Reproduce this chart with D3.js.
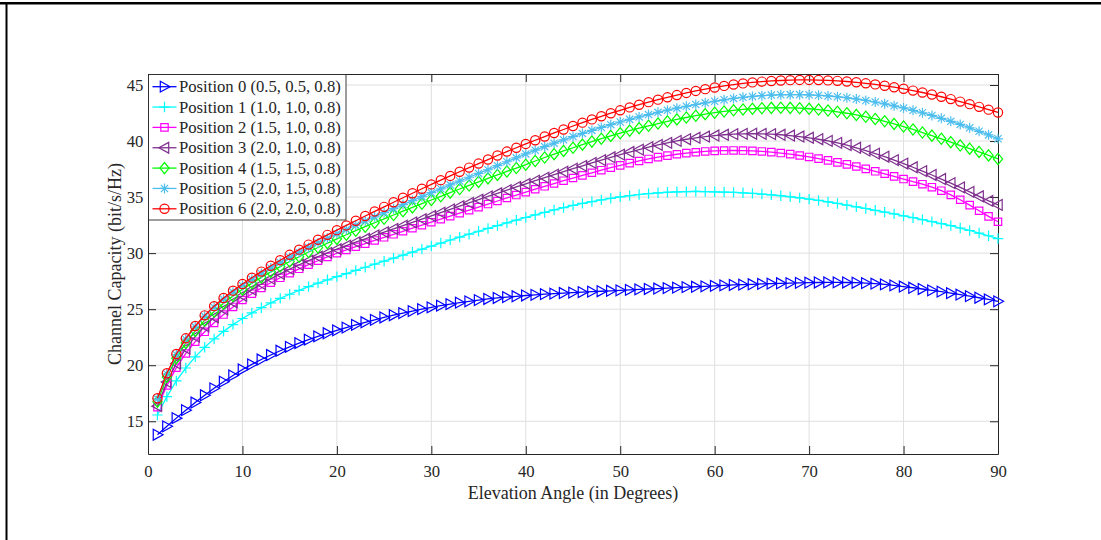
<!DOCTYPE html>
<html>
<head>
<meta charset="utf-8">
<script src="https://cdn.jsdelivr.net/npm/d3@7"></script>
<style>
  html, body { margin: 0; padding: 0; background: #fff; }
  svg { display: block; }
  text { font-family: "Liberation Serif", "Times New Roman", serif; fill: #262626; }
</style>
</head>
<body>
<svg id="chart" width="1101" height="540"></svg>
<script>
// Elevation angles (degrees) at which capacity was evaluated
const elevationDeg = d3.range(1, 91);

// Channel capacity (bit/s/Hz) per receiver position
const pos0 = [13.80,14.55,15.28,15.99,16.67,17.32,17.94,18.53,19.09,19.62,
  20.08,20.51,20.91,21.29,21.64,21.97,22.28,22.57,22.85,23.11,
  23.36,23.60,23.83,24.05,24.26,24.46,24.65,24.83,25.00,25.16,
  25.31,25.45,25.58,25.70,25.81,25.91,26.00,26.08,26.15,26.22,
  26.28,26.34,26.39,26.44,26.48,26.52,26.56,26.60,26.64,26.68,
  26.72,26.76,26.80,26.84,26.88,26.92,26.96,27.00,27.04,27.08,
  27.12,27.16,27.19,27.22,27.25,27.28,27.31,27.33,27.35,27.37,
  27.38,27.39,27.39,27.38,27.36,27.33,27.28,27.21,27.12,27.02,
  26.91,26.80,26.68,26.56,26.43,26.30,26.16,26.02,25.87,25.70];
const pos1 = [15.56,17.20,18.60,19.75,20.75,21.60,22.35,23.02,23.62,24.17,
  24.67,25.13,25.56,25.96,26.33,26.68,27.01,27.32,27.62,27.90,
  28.18,28.46,28.74,29.01,29.28,29.55,29.82,30.09,30.36,30.63,
  30.90,31.17,31.43,31.69,31.95,32.20,32.45,32.70,32.94,33.18,
  33.41,33.63,33.85,34.06,34.26,34.44,34.60,34.75,34.89,35.02,
  35.13,35.23,35.31,35.38,35.43,35.47,35.49,35.50,35.49,35.47,
  35.45,35.42,35.38,35.33,35.27,35.20,35.12,35.03,34.93,34.82,
  34.70,34.57,34.43,34.28,34.13,33.98,33.82,33.66,33.50,33.33,
  33.16,32.99,32.81,32.63,32.45,32.24,32.02,31.79,31.55,31.30];
const pos2 = [16.25,18.20,19.78,21.05,22.10,22.98,23.78,24.52,25.20,25.82,
  26.38,26.89,27.36,27.80,28.21,28.60,28.97,29.32,29.66,29.99,
  30.28,30.57,30.85,31.13,31.41,31.68,31.95,32.22,32.49,32.76,
  33.03,33.30,33.57,33.84,34.10,34.38,34.65,34.92,35.18,35.44,
  35.70,35.96,36.21,36.46,36.70,36.94,37.17,37.40,37.62,37.83,
  38.03,38.22,38.40,38.56,38.70,38.82,38.92,39.00,39.07,39.12,
  39.15,39.16,39.15,39.12,39.07,39.01,38.93,38.83,38.71,38.58,
  38.43,38.27,38.10,37.92,37.73,37.52,37.30,37.08,36.85,36.61,
  36.38,36.15,35.88,35.57,35.20,34.76,34.28,33.78,33.28,32.80];
const pos3 = [16.35,18.50,20.15,21.48,22.55,23.48,24.28,24.98,25.62,26.20,
  26.74,27.24,27.71,28.15,28.57,28.96,29.33,29.68,30.02,30.35,
  30.67,30.98,31.28,31.58,31.87,32.16,32.45,32.74,33.03,33.32,
  33.61,33.90,34.19,34.48,34.77,35.06,35.34,35.62,35.90,36.18,
  36.46,36.73,37.00,37.27,37.53,37.79,38.05,38.30,38.55,38.79,
  39.02,39.24,39.45,39.65,39.84,40.01,40.16,40.29,40.40,40.49,
  40.56,40.61,40.64,40.65,40.64,40.61,40.56,40.49,40.40,40.29,
  40.16,40.01,39.84,39.63,39.40,39.15,38.88,38.60,38.30,37.99,
  37.66,37.32,36.97,36.61,36.24,35.86,35.47,35.07,34.66,34.30];
const pos4 = [16.75,18.95,20.62,21.98,23.06,24.00,24.80,25.52,26.17,26.77,
  27.32,27.84,28.33,28.80,29.25,29.68,30.10,30.50,30.89,31.27,
  31.64,32.00,32.36,32.71,33.06,33.40,33.74,34.08,34.41,34.74,
  35.07,35.40,35.72,36.04,36.36,36.67,36.98,37.29,37.59,37.89,
  38.22,38.53,38.83,39.12,39.40,39.68,39.95,40.21,40.46,40.70,
  40.93,41.15,41.36,41.56,41.75,41.93,42.10,42.26,42.40,42.53,
  42.64,42.74,42.82,42.88,42.93,42.96,42.97,42.96,42.93,42.88,
  42.81,42.72,42.61,42.48,42.33,42.16,41.97,41.76,41.53,41.29,
  41.03,40.76,40.48,40.20,39.90,39.60,39.32,39.03,38.72,38.40];
const pos5 = [17.00,19.22,20.93,22.32,23.42,24.36,25.17,25.89,26.52,27.11,
  27.66,28.18,28.68,29.16,29.62,30.06,30.49,30.91,31.32,31.72,
  32.11,32.49,32.87,33.24,33.61,33.97,34.33,34.69,35.04,35.39,
  35.74,36.09,36.43,36.77,37.11,37.44,37.80,38.15,38.50,38.85,
  39.18,39.50,39.81,40.11,40.40,40.68,40.95,41.21,41.46,41.70,
  41.93,42.15,42.36,42.56,42.75,42.93,43.10,43.26,43.41,43.55,
  43.68,43.80,43.90,43.98,44.05,44.10,44.13,44.14,44.14,44.12,
  44.08,44.02,43.95,43.86,43.75,43.62,43.48,43.32,43.14,42.95,
  42.74,42.52,42.28,42.03,41.76,41.48,41.18,40.87,40.55,40.20];
const pos6 = [17.05,19.28,21.00,22.40,23.50,24.45,25.27,26.00,26.65,27.25,
  27.81,28.35,28.87,29.37,29.85,30.31,30.76,31.20,31.63,32.05,
  32.47,32.89,33.31,33.72,34.13,34.54,34.94,35.34,35.74,36.13,
  36.51,36.89,37.26,37.63,37.99,38.35,38.71,39.06,39.40,39.74,
  40.07,40.40,40.72,41.03,41.34,41.64,41.93,42.21,42.48,42.74,
  43.00,43.24,43.47,43.69,43.90,44.10,44.29,44.47,44.63,44.78,
  44.92,45.04,45.14,45.23,45.30,45.36,45.40,45.43,45.45,45.45,
  45.44,45.41,45.37,45.31,45.24,45.15,45.05,44.93,44.80,44.66,
  44.50,44.33,44.15,43.95,43.74,43.52,43.29,43.05,42.80,42.55];

const seriesNames = [
  "Position 0 (0.5, 0.5, 0.8)",
  "Position 1 (1.0, 1.0, 0.8)",
  "Position 2 (1.5, 1.0, 0.8)",
  "Position 3 (2.0, 1.0, 0.8)",
  "Position 4 (1.5, 1.5, 0.8)",
  "Position 5 (2.0, 1.5, 0.8)",
  "Position 6 (2.0, 2.0, 0.8)"
];
const seriesValues = [pos0, pos1, pos2, pos3, pos4, pos5, pos6];
const seriesColors = ["#0000ff", "#00ffff", "#ff00ff", "#7e2f8e", "#00ff00", "#4dbeee", "#ff0000"];
const seriesMarkers = ["triRight", "plus", "square", "triLeft", "diamond", "star", "circle"];

const xTicks = [0, 10, 20, 30, 40, 50, 60, 70, 80, 90];
const yTicks = [15, 20, 25, 30, 35, 40, 45];

const xLabel = "Elevation Angle (in Degrees)";
const yLabel = "Channel Capacity (bit/s/Hz)";

// ---- layout ----
const plot = { left: 148, right: 998, top: 74, bottom: 454 };
const axisColor = "#262626";
const gridColor = "#dfdfdf";
const tickFont = 16.7;
const labelFont = 18;
const tickLen = 8;

const svg = d3.select("#chart");

// figure frame (top and left edges)
svg.append("rect").attr("x", 0).attr("y", 2).attr("width", 1101).attr("height", 2.5).attr("fill", "#000");
svg.append("rect").attr("x", 5.5).attr("y", 2).attr("width", 2).attr("height", 538).attr("fill", "#000");

const x = d3.scaleLinear().domain([0, 90]).range([plot.left, plot.right]);
const y = d3.scaleLinear().domain([12.08, 45.98]).range([plot.bottom, plot.top]);

// axes background
svg.append("rect")
  .attr("x", plot.left).attr("y", plot.top)
  .attr("width", plot.right - plot.left).attr("height", plot.bottom - plot.top)
  .attr("fill", "#fff");

// grid
const grid = svg.append("g").attr("stroke", gridColor).attr("stroke-width", 1);
grid.selectAll("line.gx").data(xTicks.filter(t => t > 0 && t < 90)).join("line")
  .attr("x1", d => x(d)).attr("x2", d => x(d))
  .attr("y1", plot.top).attr("y2", plot.bottom);
grid.selectAll("line.gy").data(yTicks).join("line")
  .attr("y1", d => y(d)).attr("y2", d => y(d))
  .attr("x1", plot.left).attr("x2", plot.right);

// axes with inward ticks
function styleAxis(g) {
  g.select(".domain").attr("stroke", axisColor).attr("stroke-width", 1);
  g.selectAll(".tick line").attr("stroke", axisColor).attr("stroke-width", 1);
  g.selectAll("text").attr("font-size", tickFont)
    .attr("font-family", '"Liberation Serif", "Times New Roman", serif')
    .attr("fill", axisColor);
}

svg.append("g").attr("transform", `translate(0,${plot.bottom})`)
  .call(d3.axisBottom(x).tickValues(xTicks).tickFormat(d3.format("d"))
    .tickSizeInner(-tickLen).tickSizeOuter(0).tickPadding(11.3))
  .call(styleAxis);
svg.append("g").attr("transform", `translate(0,${plot.top})`)
  .call(d3.axisTop(x).tickValues(xTicks).tickFormat("")
    .tickSizeInner(-tickLen).tickSizeOuter(0))
  .call(styleAxis);
svg.append("g").attr("transform", `translate(${plot.left},0)`)
  .call(d3.axisLeft(y).tickValues(yTicks).tickFormat(d3.format("d"))
    .tickSizeInner(-tickLen).tickSizeOuter(0).tickPadding(4.7))
  .call(styleAxis);
svg.append("g").attr("transform", `translate(${plot.right},0)`)
  .call(d3.axisRight(y).tickValues(yTicks).tickFormat("")
    .tickSizeInner(-tickLen).tickSizeOuter(0))
  .call(styleAxis);

// axis titles
svg.append("text")
  .attr("x", (plot.left + plot.right) / 2).attr("y", 499)
  .attr("text-anchor", "middle").attr("font-size", labelFont)
  .text(xLabel);
svg.append("text")
  .attr("transform", `translate(121,${(plot.top + plot.bottom) / 2}) rotate(-90)`)
  .attr("text-anchor", "middle").attr("font-size", labelFont)
  .text(yLabel);

// marker shapes
const markerPath = {
  triRight: "M-4.2,-5.4L5.6,0L-4.2,5.4Z",
  triLeft: "M4.2,-5.4L-5.6,0L4.2,5.4Z",
  plus: "M-5.2,0H5.2M0,-5.2V5.2",
  square: "M-3.7,-3.7H3.7V3.7H-3.7Z",
  diamond: "M0,-5.6L4.6,0L0,5.6L-4.6,0Z",
  star: "M-5,0H5M0,-5V5M-3.6,-3.6L3.6,3.6M-3.6,3.6L3.6,-3.6",
  circle: "M4.6,0A4.6,4.6 0 1,1 -4.6,0A4.6,4.6 0 1,1 4.6,0Z"
};

const line = d3.line().x(d => x(d[0])).y(d => y(d[1]));

const plotG = svg.append("g");
seriesValues.forEach((vals, i) => {
  const pts = vals.map((v, j) => [elevationDeg[j], v]);
  const g = plotG.append("g");
  g.append("path").datum(pts)
    .attr("d", line).attr("fill", "none")
    .attr("stroke", seriesColors[i]).attr("stroke-width", 1.3);
  g.selectAll("path.m").data(pts).join("path")
    .attr("class", "m")
    .attr("transform", d => `translate(${x(d[0])},${y(d[1])})`)
    .attr("d", markerPath[seriesMarkers[i]])
    .attr("fill", "none")
    .attr("stroke", seriesColors[i]).attr("stroke-width", 1.2);
});

// legend
const legend = svg.append("g");
const legendBox = { x: 148.5, y: 74.5, w: 197.5, h: 145.5 };
legend.append("rect")
  .attr("x", legendBox.x).attr("y", legendBox.y)
  .attr("width", legendBox.w).attr("height", legendBox.h)
  .attr("fill", "#fff").attr("stroke", axisColor).attr("stroke-width", 0.9);
const rowY = i => 86.7 + 20.35 * i;
seriesNames.forEach((name, i) => {
  const row = legend.append("g").attr("transform", `translate(0,${rowY(i)})`);
  row.append("line").attr("x1", 152.5).attr("x2", 176.5).attr("y1", 0).attr("y2", 0)
    .attr("stroke", seriesColors[i]).attr("stroke-width", 1.3);
  row.append("path").attr("transform", "translate(164.5,0)")
    .attr("d", markerPath[seriesMarkers[i]]).attr("fill", "none")
    .attr("stroke", seriesColors[i]).attr("stroke-width", 1.2);
  row.append("text").attr("x", 179).attr("y", 0).attr("dy", "0.33em")
    .attr("font-size", 16.7).text(name);
});
</script>
</body>
</html>
